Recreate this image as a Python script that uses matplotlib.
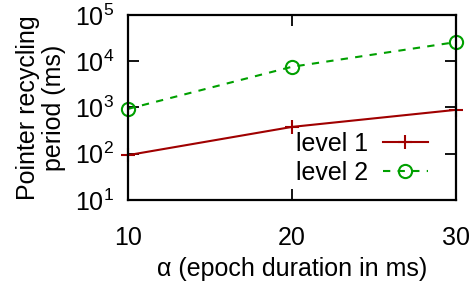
import matplotlib
matplotlib.use("Agg")
import matplotlib.pyplot as plt
from matplotlib.ticker import LogLocator, NullFormatter

plt.rcParams["font.family"] = ["Liberation Sans", "DejaVu Sans"]
plt.rcParams["mathtext.fontset"] = "custom"
plt.rcParams["mathtext.rm"] = "Liberation Sans"

alpha = [10, 20, 30]
level1 = [93, 380, 890]
level2 = [930, 7600, 26000]
yticks = [1e1, 1e2, 1e3, 1e4, 1e5]
ytick_labels = [r"$10^{%d}$" % e for e in range(1, 6)]

RED = "#a00000"
GREEN = "#00a000"
FS = 18

fig = plt.figure(figsize=(4.77, 2.84), dpi=100)
ax = fig.add_axes([0.268, 0.296, 0.688, 0.651])

ax.plot(alpha, level1, color=RED, lw=1.5, marker="+", ms=10, mew=1.5,
        label="level 1", clip_on=False)
ax.plot(alpha, level2, color=GREEN, lw=1.5, ls=(0, (3.5, 3.5)), marker="o",
        ms=9.5, mfc="none", mew=1.5, label="level 2", clip_on=False)

ax.set_yscale("log")
ax.set_xlim(10, 30)
ax.set_ylim(10, 1e5)
ax.set_xticks(alpha)
ax.set_yticks(yticks)
ax.set_yticklabels(ytick_labels)
ax.yaxis.set_minor_locator(LogLocator(base=10, subs=range(2, 10)))
ax.yaxis.set_minor_formatter(NullFormatter())

ax.tick_params(which="both", direction="in", top=True, right=True,
               labelsize=FS, width=1.3)
ax.tick_params(axis="x", which="major", length=8, pad=19)
ax.tick_params(axis="y", which="major", length=8, pad=10)
ax.tick_params(which="minor", length=4)
for s in ax.spines.values():
    s.set_linewidth(1.6)

ax.set_xlabel("α (epoch duration in ms)", fontsize=FS, labelpad=5)
ax.set_ylabel("Pointer recycling\nperiod (ms)", fontsize=FS, labelpad=6,
              linespacing=1.1)

ax.legend(loc="lower right", frameon=False, markerfirst=False, fontsize=FS,
          handlelength=1.8, handletextpad=0.6, borderaxespad=0.2,
          labelspacing=0.2, bbox_to_anchor=(0.96, 0.0))

fig.savefig("out.png", dpi=100)
